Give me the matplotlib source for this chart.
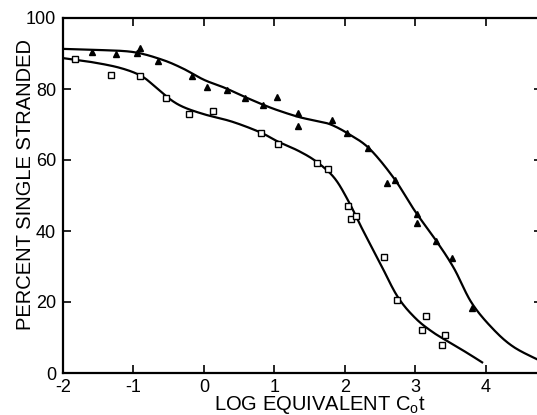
import matplotlib
matplotlib.use('Agg')
import matplotlib.pyplot as plt
import numpy as np

# open squares (lower series)
sq_x = [-1.83, -1.32, -0.90, -0.54, -0.21, 0.13, 0.81, 1.05, 1.60, 1.76,
        2.04, 2.09, 2.16, 2.55, 2.74, 3.15, 3.09, 3.42, 3.38]
sq_y = [88.5, 83.9, 83.7, 77.5, 72.9, 73.8, 67.6, 64.5, 59.2, 57.5,
        47.0, 43.4, 44.2, 32.7, 20.6, 16.1, 12.1, 10.7, 7.9]

# filled triangles (upper series)
tri_x = [-1.59, -1.25, -0.91, -0.95, -0.65, -0.17, 0.04, 0.33, 0.58, 0.84,
         1.04, 1.33, 1.33, 1.82, 2.03, 2.33, 2.60, 2.72, 3.02, 3.02,
         3.30, 3.52, 3.80]
tri_y = [90.4, 89.9, 91.5, 90.1, 87.9, 83.7, 80.6, 79.7, 77.5, 75.5,
         77.7, 73.2, 69.6, 71.3, 67.6, 63.4, 53.5, 54.4, 44.8, 42.3,
         37.2, 32.4, 18.3]

# fitted curves
fit_up_x = [-2, -1.5, -1.0, -0.6, -0.3, 0, 0.3, 0.6, 0.85, 1.05, 1.35, 1.6,
            1.8, 2.05, 2.35, 2.7, 3.0, 3.3, 3.55, 3.8, 4.1, 4.4, 4.8]
fit_up_y = [91.3, 91.0, 90.4, 88.3, 85.8, 82.6, 80.3, 77.6, 75.5, 74.0, 72.1, 71.0,
            70.0, 67.4, 63.2, 54.8, 45.5, 37.2, 29.5, 19.8, 12.5, 7.3, 3.2]
fit_lo_x = [-2, -1.6, -1.2, -0.9, -0.7, -0.5, -0.3, 0, 0.4, 0.8, 1.05, 1.35, 1.6,
            1.85, 2.05, 2.25, 2.5, 2.75, 3.0, 3.25, 3.5, 3.75, 3.95]
fit_lo_y = [88.7, 87.6, 86.0, 83.8, 80.8, 77.4, 75.0, 72.9, 70.8, 67.8, 65.2, 62.5, 59.5,
            55.0, 48.5, 40.5, 31.0, 21.5, 15.5, 11.5, 8.5, 5.5, 3.0]

xticks = [-2, -1, 0, 1, 2, 3, 4]
yticks = [0, 20, 40, 60, 80, 100]


def smooth(xs, ys, n=20):
    # catmull-rom through the read points
    p = np.column_stack([xs, ys])
    p = np.vstack([p[0], p, p[-1]])
    out = []
    t = np.linspace(0, 1, n, endpoint=False)[:, None]
    for i in range(1, len(p) - 2):
        p0, p1, p2, p3 = p[i - 1], p[i], p[i + 1], p[i + 2]
        out.append(0.5 * (2 * p1 + (-p0 + p2) * t
                          + (2 * p0 - 5 * p1 + 4 * p2 - p3) * t ** 2
                          + (-p0 + 3 * p1 - 3 * p2 + p3) * t ** 3))
    out.append(p[-2][None, :])
    out = np.vstack(out)
    return out[:, 0], out[:, 1]


plt.rcParams['font.family'] = ['Liberation Sans', 'DejaVu Sans']

fig = plt.figure(figsize=(5.37, 4.15), dpi=100)
ax = fig.add_axes([63 / 537, 42 / 415, 479 / 537, 355 / 415])

for fx, fy in [(fit_up_x, fit_up_y), (fit_lo_x, fit_lo_y)]:
    sx, sy = smooth(fx, fy)
    ax.plot(sx, sy, color='black', lw=1.6)

ax.plot(tri_x, tri_y, linestyle='none', marker='^', ms=5, color='black')
ax.plot(sq_x, sq_y, linestyle='none', marker='s', ms=4.5, mfc='white',
        mec='black', mew=1.0)

ax.set_xlim(-2, 4.8)
ax.set_ylim(0, 100)
ax.set_xticks(xticks)
ax.set_xticklabels([str(v) for v in xticks])
ax.set_yticks(yticks)
ax.tick_params(direction='in', length=6, width=1.2, labelsize=13,
               top=True, right=True)
ax.tick_params(axis='x', pad=4)
ax.tick_params(axis='y', pad=5)
for s in ax.spines.values():
    s.set_linewidth(1.6)

ax.set_xlabel(r'LOG EQUIVALENT C$_\mathregular{o}$t', fontsize=14.5)
ax.xaxis.set_label_coords(0.537, -0.06)
ax.set_ylabel('PERCENT SINGLE STRANDED', fontsize=14.5)
ax.yaxis.set_label_coords(-0.058, 0.53)

fig.savefig('out.png', dpi=100)
